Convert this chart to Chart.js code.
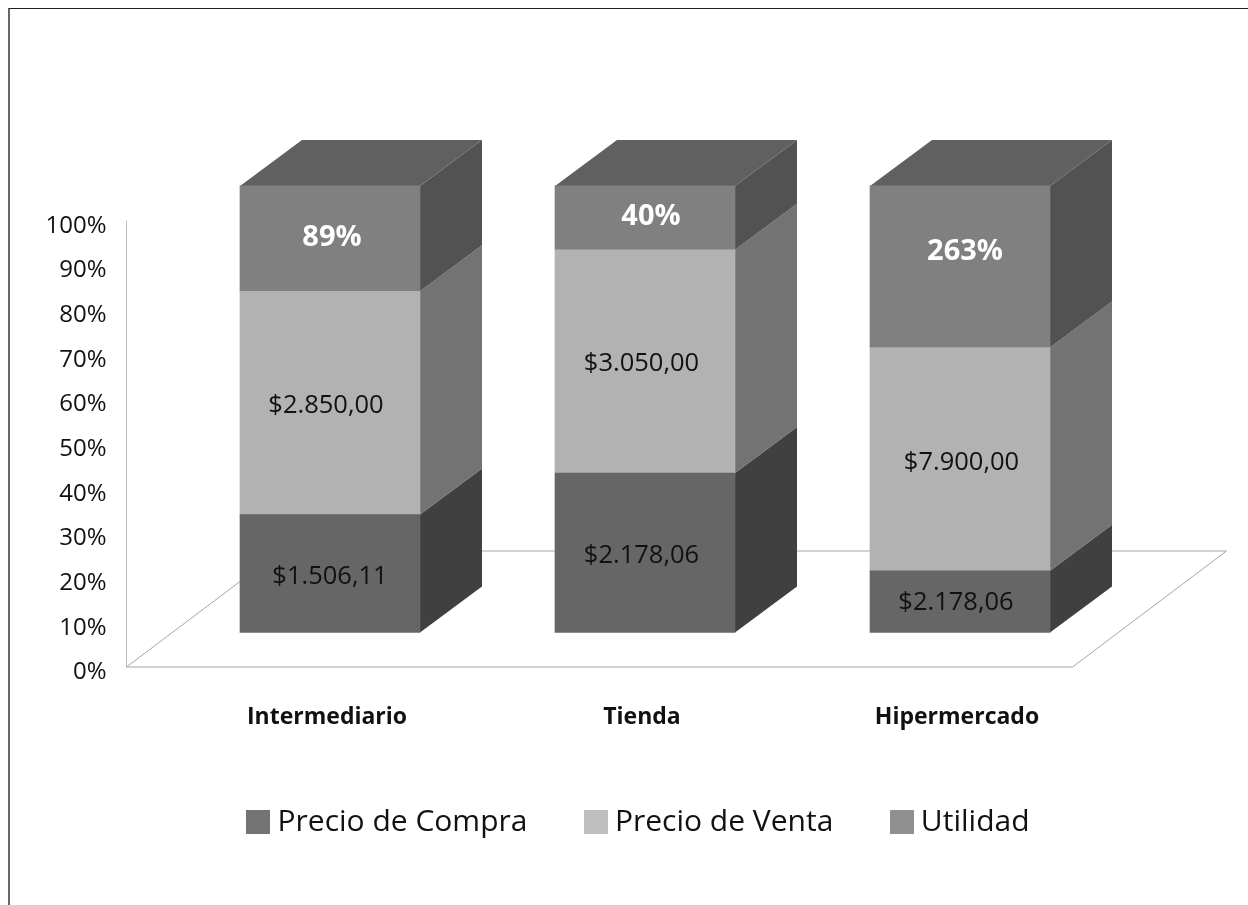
<!DOCTYPE html>
<html>
<head>
<meta charset="utf-8">
<style>
html,body{margin:0;padding:0;background:#fff;width:1248px;height:905px;overflow:hidden}
#frame{position:absolute;left:8px;top:8px;right:-4px;bottom:-4px;border-left:2px solid #666;border-top:1px solid #222}
#wrap{position:absolute;left:0;top:0;width:1248px;height:905px}
</style>
<script src="https://cdn.jsdelivr.net/npm/chart.js@4"></script>
</head>
<body>
<div id="frame"></div>
<div id="wrap"><canvas id="c" width="1248" height="905"></canvas></div>
<script>
const categories = ['Intermediario', 'Tienda', 'Hipermercado'];
const seriesNames = ['Precio de Compra', 'Precio de Venta', 'Utilidad'];
const precioCompra = [26.4, 35.7, 13.8];
const precioVenta = [50, 50, 50];
const utilidad = [23.6, 14.3, 36.2];
const compraLabels = ['$1.506,11', '$2.178,06', '$2.178,06'];
const ventaLabels = ['$2.850,00', '$3.050,00', '$7.900,00'];
const utilidadLabels = ['89%', '40%', '263%'];

const fontMain = '"Open Sans", sans-serif';
const frontColors = ['#666666', '#b2b2b2', '#808080'];
const sideColors = ['#404040', '#737373', '#525252'];
const topColor = '#606060';
const legendColors = ['#737373', '#bfbfbf', '#8f8f8f'];
const depth = {x: 62, y: 46};
const floorDepth = {x: 154, y: 116};
const labelNudgeX = [[0, -3.5, -4], [-4, -3.5, 1.5], [2, 6, 5]];
const labelNudgeY = [[2, 1.5, 0], [1.5, 1.5, 2.5], [-1.5, -2, -16]];

function swatch(color) {
  const s = document.createElement('canvas');
  s.width = 24; s.height = 24;
  const g = s.getContext('2d');
  g.fillStyle = color; g.fillRect(0, 0, 24, 24);
  return s;
}

const prism = {
  id: 'prism',
  afterLayout(chart) {
    chart.scales.y.left = 0;
  },
  beforeDatasetsDraw(chart) {
    const ctx = chart.ctx, y = chart.scales.y;
    const x0 = y.right - 46, x1 = x0 + 946, yb = y.bottom - 5.5, yt = y.top - 5.5;
    ctx.save();
    ctx.lineWidth = 1;
    ctx.strokeStyle = '#bdbdbd';
    ctx.beginPath(); ctx.moveTo(x0, yt); ctx.lineTo(x0, yb); ctx.stroke();
    ctx.strokeStyle = '#a6a6a6';
    ctx.beginPath();
    ctx.moveTo(x0, yb); ctx.lineTo(x1, yb);
    ctx.lineTo(x1 + floorDepth.x, yb - floorDepth.y);
    ctx.lineTo(x0 + floorDepth.x, yb - floorDepth.y);
    ctx.closePath(); ctx.stroke();
    chart.data.datasets.forEach((ds, di) => {
      chart.getDatasetMeta(di).data.forEach(bar => {
        const r = bar.x + bar.width / 2, l = bar.x - bar.width / 2;
        ctx.fillStyle = sideColors[di];
        ctx.beginPath();
        ctx.moveTo(r, bar.base); ctx.lineTo(r + depth.x, bar.base - depth.y);
        ctx.lineTo(r + depth.x, bar.y - depth.y); ctx.lineTo(r, bar.y);
        ctx.closePath(); ctx.fill();
        if (di === chart.data.datasets.length - 1) {
          ctx.fillStyle = topColor;
          ctx.beginPath();
          ctx.moveTo(l, bar.y); ctx.lineTo(r, bar.y);
          ctx.lineTo(r + depth.x, bar.y - depth.y); ctx.lineTo(l + depth.x, bar.y - depth.y);
          ctx.closePath(); ctx.fill();
        }
      });
    });
    ctx.restore();
  },
  afterDatasetsDraw(chart) {
    const ctx = chart.ctx;
    const texts = [compraLabels, ventaLabels, utilidadLabels];
    ctx.save();
    ctx.textAlign = 'center';
    ctx.textBaseline = 'middle';
    chart.data.datasets.forEach((ds, di) => {
      chart.getDatasetMeta(di).data.forEach((bar, i) => {
        ctx.font = (di === 2 ? 'bold 29px ' : '25.5px ') + fontMain;
        ctx.fillStyle = di === 2 ? '#ffffff' : '#111111';
        ctx.fillText(texts[di][i], bar.x + labelNudgeX[di][i], (bar.y + bar.base) / 2 + 1 + labelNudgeY[di][i]);
      });
    });
    ctx.restore();
  }
};

const arrays = [precioCompra, precioVenta, utilidad];
new Chart(document.getElementById('c'), {
  type: 'bar',
  plugins: [prism],
  data: {
    labels: categories,
    datasets: seriesNames.map((name, i) => ({
      label: name,
      data: arrays[i],
      yAxisID: 'yBars',
      backgroundColor: frontColors[i],
      borderWidth: 0,
      barThickness: 180,
      clip: false
    }))
  },
  options: {
    responsive: false,
    animation: false,
    layout: {padding: {left: 166.5, right: 130.5, top: 226, bottom: 58}},
    plugins: {
      tooltip: {enabled: false},
      title: {display: false},
      legend: {
        display: true,
        position: 'bottom',
        labels: {
          usePointStyle: true,
          pointStyleWidth: 8,
          padding: 64.5,
          color: '#111111',
          font: {family: fontMain, size: 30},
          generateLabels: () => seriesNames.map((n, i) => ({text: n, pointStyle: swatch(legendColors[i]), datasetIndex: i, fontColor: '#111111', lineWidth: 0}))
        }
      }
    },
    scales: {
      x: {
        stacked: true,
        grid: {display: false, drawTicks: false},
        border: {display: false},
        ticks: {color: '#111111', font: {family: fontMain, size: 23, weight: 'bold'}, padding: 31, labelOffset: -3, maxRotation: 0},
        afterFit(s) { s.height = 70; }
      },
      y: {
        position: 'left',
        min: 0, max: 100,
        grid: {display: false, drawTicks: false},
        border: {display: false},
        ticks: {stepSize: 10, padding: 66, color: '#111111', font: {family: fontMain, size: 24}, callback: v => v + '%'},
        afterFit(s) { s.width = 6; }
      },
      yBars: {
        display: false,
        stacked: true,
        min: -8.97,
        max: 91.03
      }
    }
  }
});
</script>
</body>
</html>
